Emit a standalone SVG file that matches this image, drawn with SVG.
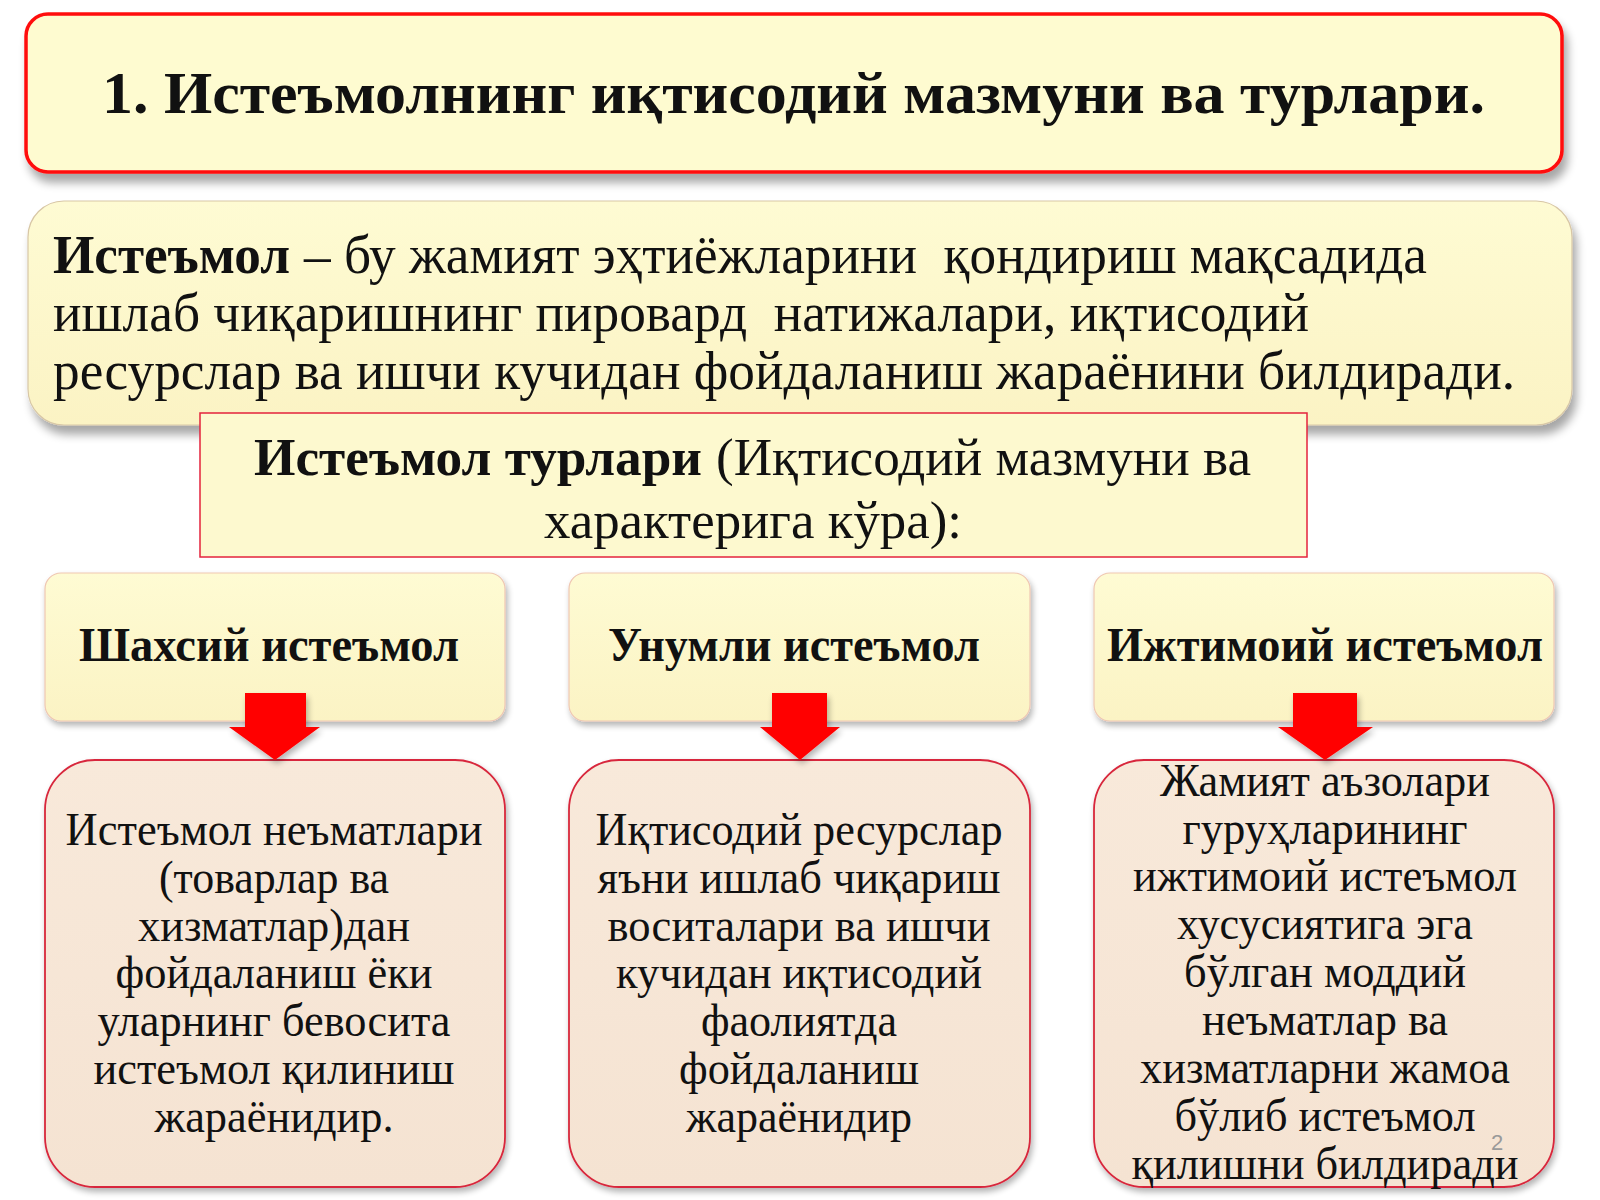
<svg xmlns="http://www.w3.org/2000/svg" width="1600" height="1200" viewBox="0 0 1600 1200">
<defs>
  <filter id="shadow" x="-5%" y="-10%" width="112%" height="135%">
    <feGaussianBlur in="SourceAlpha" stdDeviation="5"/>
    <feOffset dx="4" dy="9" result="o"/>
    <feComponentTransfer><feFuncA type="linear" slope="0.35"/></feComponentTransfer>
    <feMerge><feMergeNode/><feMergeNode in="SourceGraphic"/></feMerge>
  </filter>
  <filter id="softshadow" x="-5%" y="-10%" width="112%" height="130%">
    <feGaussianBlur in="SourceAlpha" stdDeviation="3"/>
    <feOffset dx="2" dy="4" result="o"/>
    <feComponentTransfer><feFuncA type="linear" slope="0.3"/></feComponentTransfer>
    <feMerge><feMergeNode/><feMergeNode in="SourceGraphic"/></feMerge>
  </filter>
  <linearGradient id="yel" x1="0" y1="0" x2="0" y2="1">
    <stop offset="0" stop-color="#fefbd3"/>
    <stop offset="1" stop-color="#fbf3c4"/>
  </linearGradient>
  <linearGradient id="peach" x1="0" y1="0" x2="0" y2="1">
    <stop offset="0" stop-color="#f8e9da"/>
    <stop offset="1" stop-color="#f5e3d2"/>
  </linearGradient>
</defs>
<style>
  .serif { font-family: "Liberation Serif", "Times New Roman", serif; fill: #111; }
  .b { font-weight: bold; }
  .body { font-size: 46px; }
  .hdr { font-size: 48px; font-weight: bold; }
  .mid { text-anchor: middle; }
  .hbox { fill: url(#yel); stroke: #efc7b2; stroke-width: 1.2; }
  .lbox { fill: url(#peach); stroke: #d8283c; stroke-width: 1.8; }
  .arrow { fill: #ff0000; }
</style>
<rect width="1600" height="1200" fill="#ffffff"/>

<g id="title">
  <rect x="26" y="14" width="1536" height="158" rx="22" ry="22" fill="#fefbd0" stroke="#ff0a0a" stroke-width="3.5" filter="url(#shadow)"/>
  <text class="serif b" x="102" y="113" font-size="60" textLength="1383" lengthAdjust="spacingAndGlyphs">1. Истеъмолнинг иқтисодий мазмуни ва турлари.</text>
</g>

<g id="definition">
  <rect x="28" y="201" width="1544" height="224" rx="36" ry="36" fill="url(#yel)" stroke="#d8c7a6" stroke-width="1.2" filter="url(#shadow)"/>
  <text class="serif b" x="53" y="273" font-size="54" textLength="237" lengthAdjust="spacingAndGlyphs">Истеъмол</text>
  <text class="serif" x="304" y="273" font-size="54" textLength="1123" lengthAdjust="spacingAndGlyphs">– бу жамият эҳтиёжларини &#160;қондириш мақсадида</text>
  <text class="serif" x="53" y="331" font-size="54" textLength="1256" lengthAdjust="spacingAndGlyphs">ишлаб чиқаришнинг пировард &#160;натижалари, иқтисодий</text>
  <text class="serif" x="53" y="389" font-size="54" textLength="1462" lengthAdjust="spacingAndGlyphs">ресурслар ва ишчи кучидан фойдаланиш жараёнини билдиради.</text>
</g>

<g id="types">
  <rect x="200" y="413" width="1107" height="144" fill="#fdf9cf" stroke="#e4233d" stroke-width="1.5"/>
  <text class="serif b" x="254" y="475" font-size="53" textLength="448" lengthAdjust="spacingAndGlyphs">Истеъмол турлари</text>
  <text class="serif" x="716" y="475" font-size="53" textLength="535" lengthAdjust="spacingAndGlyphs">(Иқтисодий мазмуни ва</text>
  <text class="serif" x="544" y="538" font-size="53" textLength="418" lengthAdjust="spacingAndGlyphs">характерига кўра):</text>
</g>

<g id="personal-header">
  <rect class="hbox" x="45" y="573" width="460" height="148" rx="16" ry="16" filter="url(#softshadow)"/>
  <text class="serif hdr" x="79" y="661" textLength="380" lengthAdjust="spacingAndGlyphs">Шахсий истеъмол</text>
</g>
<g id="productive-header">
  <rect class="hbox" x="569" y="573" width="461" height="148" rx="16" ry="16" filter="url(#softshadow)"/>
  <text class="serif hdr" x="608" y="661" textLength="372" lengthAdjust="spacingAndGlyphs">Унумли истеъмол</text>
</g>
<g id="social-header">
  <rect class="hbox" x="1094" y="573" width="460" height="148" rx="16" ry="16" filter="url(#softshadow)"/>
  <text class="serif hdr" x="1107" y="661" textLength="436" lengthAdjust="spacingAndGlyphs">Ижтимоий истеъмол</text>
</g>

<g id="personal-desc">
  <rect class="lbox" x="45" y="760" width="460" height="427" rx="50" ry="50" filter="url(#softshadow)"/>
  <g class="serif body mid">
    <text x="274" y="845" textLength="417" lengthAdjust="spacingAndGlyphs">Истеъмол неъматлари</text>
    <text x="274" y="893" textLength="230" lengthAdjust="spacingAndGlyphs">(товарлар ва</text>
    <text x="274" y="941" textLength="272" lengthAdjust="spacingAndGlyphs">хизматлар)дан</text>
    <text x="274" y="988" textLength="317" lengthAdjust="spacingAndGlyphs">фойдаланиш ёки</text>
    <text x="274" y="1036" textLength="353" lengthAdjust="spacingAndGlyphs">уларнинг бевосита</text>
    <text x="274" y="1084" textLength="361" lengthAdjust="spacingAndGlyphs">истеъмол қилиниш</text>
    <text x="274" y="1132" textLength="239" lengthAdjust="spacingAndGlyphs">жараёнидир.</text>
  </g>
</g>
<g id="productive-desc">
  <rect class="lbox" x="569" y="760" width="461" height="427" rx="50" ry="50" filter="url(#softshadow)"/>
  <g class="serif body mid">
    <text x="799" y="845" textLength="407" lengthAdjust="spacingAndGlyphs">Иқтисодий ресурслар</text>
    <text x="799" y="893" textLength="403" lengthAdjust="spacingAndGlyphs">яъни ишлаб чиқариш</text>
    <text x="799" y="941" textLength="383" lengthAdjust="spacingAndGlyphs">воситалари ва ишчи</text>
    <text x="799" y="988" textLength="366" lengthAdjust="spacingAndGlyphs">кучидан иқтисодий</text>
    <text x="799" y="1036" textLength="196" lengthAdjust="spacingAndGlyphs">фаолиятда</text>
    <text x="799" y="1084" textLength="240" lengthAdjust="spacingAndGlyphs">фойдаланиш</text>
    <text x="799" y="1132" textLength="226" lengthAdjust="spacingAndGlyphs">жараёнидир</text>
  </g>
</g>
<g id="social-desc">
  <rect class="lbox" x="1094" y="760" width="460" height="427" rx="50" ry="50" filter="url(#softshadow)"/>
  <g class="serif body mid">
    <text x="1325" y="796" textLength="330" lengthAdjust="spacingAndGlyphs">Жамият аъзолари</text>
    <text x="1325" y="844" textLength="285" lengthAdjust="spacingAndGlyphs">гуруҳларининг</text>
    <text x="1325" y="891" textLength="384" lengthAdjust="spacingAndGlyphs">ижтимоий истеъмол</text>
    <text x="1325" y="939" textLength="296" lengthAdjust="spacingAndGlyphs">хусусиятига эга</text>
    <text x="1325" y="987" textLength="282" lengthAdjust="spacingAndGlyphs">бўлган моддий</text>
    <text x="1325" y="1035" textLength="246" lengthAdjust="spacingAndGlyphs">неъматлар ва</text>
    <text x="1325" y="1083" textLength="370" lengthAdjust="spacingAndGlyphs">хизматларни жамоа</text>
    <text x="1325" y="1131" textLength="301" lengthAdjust="spacingAndGlyphs">бўлиб истеъмол</text>
    <text x="1325" y="1179" textLength="387" lengthAdjust="spacingAndGlyphs">қилишни билдиради</text>
  </g>
  <text x="1497" y="1150" font-family="Liberation Sans, Arial, sans-serif" font-size="22" fill="#9a9a9a" text-anchor="middle">2</text>
</g>

<g id="connectors">
  <polygon class="arrow" points="245,693 306,693 306,727 320,727 275,760 229,727 245,727" filter="url(#softshadow)"/>
  <polygon class="arrow" points="772,693 827,693 827,727 840,727 800,760 760,727 772,727" filter="url(#softshadow)"/>
  <polygon class="arrow" points="1293,693 1357,693 1357,727 1373,727 1325,760 1278,727 1293,727" filter="url(#softshadow)"/>
</g>
</svg>
